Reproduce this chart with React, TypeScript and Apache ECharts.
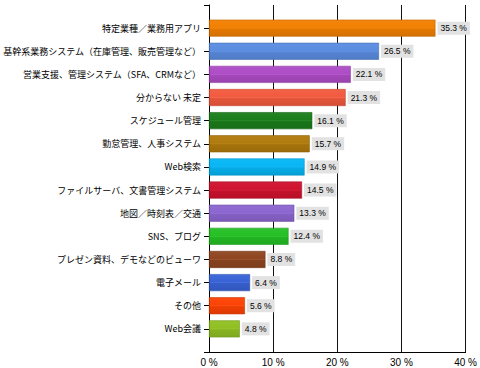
import React, { useEffect, useRef } from "react";
import * as echarts from "echarts";

const categories = [
  "特定業種／業務用アプリ",
  "基幹系業務システム（在庫管理、販売管理など）",
  "営業支援、管理システム（SFA、CRMなど）",
  "分からない 未定",
  "スケジュール管理",
  "勤怠管理、人事システム",
  "Web検索",
  "ファイルサーバ、文書管理システム",
  "地図／時刻表／交通",
  "SNS、ブログ",
  "プレゼン資料、デモなどのビューワ",
  "電子メール",
  "その他",
  "Web会議",
];
const values = [35.3, 26.5, 22.1, 21.3, 16.1, 15.7, 14.9, 14.5, 13.3, 12.4, 8.8, 6.4, 5.6, 4.8];
const barColors = [
  "#f28000",
  "#5a8ce0",
  "#ae4cc6",
  "#f25a3e",
  "#1b7d1b",
  "#b07a0c",
  "#06b6f4",
  "#d0122e",
  "#8c66d0",
  "#24c024",
  "#8f4620",
  "#3862d6",
  "#fc4204",
  "#90c022",
];
const xTicks = [0, 10, 20, 30, 40];

function shade(hex: string, f: number): string {
  const n = parseInt(hex.slice(1), 16);
  let r = (n >> 16) & 255, g = (n >> 8) & 255, b = n & 255;
  if (f >= 0) {
    r = Math.round(r + (255 - r) * f);
    g = Math.round(g + (255 - g) * f);
    b = Math.round(b + (255 - b) * f);
  } else {
    r = Math.round(r * (1 + f));
    g = Math.round(g * (1 + f));
    b = Math.round(b * (1 + f));
  }
  return "rgb(" + r + "," + g + "," + b + ")";
}

export default function App() {
  const ref = useRef<HTMLDivElement>(null);
  useEffect(() => {
    if (!ref.current) return;
    const chart = echarts.init(ref.current, null, { renderer: "svg" });
    const yData = ["", ...categories, ""];
    const seriesData = [
      { value: null as any },
      ...values.map((v, i) => ({
        value: v,
        itemStyle: {
          color: new echarts.graphic.LinearGradient(0, 0, 0, 1, [
            { offset: 0, color: shade(barColors[i], 0.05) },
            { offset: 0.45, color: barColors[i] },
            { offset: 0.5, color: shade(barColors[i], 0.08) },
            { offset: 0.55, color: shade(barColors[i], -0.06) },
            { offset: 1, color: shade(barColors[i], -0.12) },
          ]),
          borderColor: shade(barColors[i], -0.2),
          borderWidth: 0.6,
        },
      })),
      { value: null as any },
    ];
    chart.setOption({
      animation: false,
      backgroundColor: "#ffffff",
      grid: { left: 203.5, right: 14, top: 5, bottom: 16, containLabel: false },
      xAxis: {
        type: "value",
        min: xTicks[0],
        max: xTicks[xTicks.length - 1],
        interval: 10,
        axisLine: { show: true, lineStyle: { color: "#000", width: 1 } },
        axisTick: { show: false },
        axisLabel: {
          formatter: "{value} %",
          color: "#000",
          fontSize: 10,
          fontFamily: "Liberation Sans, Arial, sans-serif",
          margin: 5,
        },
        splitLine: { show: true, lineStyle: { color: "#111", width: 1 } },
      },
      yAxis: {
        type: "category",
        inverse: true,
        boundaryGap: false,
        data: yData,
        axisLine: { show: true, lineStyle: { color: "#000", width: 1 } },
        axisTick: { show: true, length: 5, lineStyle: { color: "#000" } },
        axisLabel: {
          color: "#000",
          fontSize: 9,
          fontFamily: "Noto Sans CJK JP, sans-serif",
          margin: 8,
          interval: 0,
        },
        splitLine: { show: false },
      },
      series: [
        {
          type: "bar",
          data: seriesData,
          barWidth: 17,
          label: {
            show: true,
            position: "right",
            distance: 2,
            formatter: (p: any) => p.value.toFixed(1) + " %",
            color: "#000",
            fontSize: 8.5,
            fontFamily: "Liberation Sans, Arial, sans-serif",
            backgroundColor: "#e2e2e2",
            padding: [2, 3, 2, 3],
          },
        },
      ],
    });
    return () => chart.dispose();
  }, []);
  return <div ref={ref} style={{ width: 480, height: 368, position: "absolute", left: 0, top: 0 }} />;
}
